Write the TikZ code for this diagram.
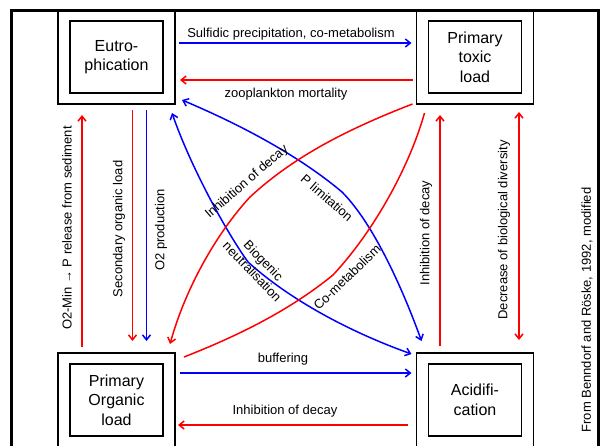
\documentclass[tikz,border=0pt]{standalone}
\usepackage{fontspec}
\setmainfont{Liberation Sans}
\usetikzlibrary{arrows.meta,calc}
\begin{document}
\begin{tikzpicture}[x=1pt,y=-1pt,
  >={Straight Barb[length=5pt,width=8pt]},
  outerbox/.style={draw, line width=1.5pt, minimum width=117pt, minimum height=94pt, inner sep=0pt, outer sep=0pt},
  innerbox/.style={draw, line width=1.5pt, minimum width=93pt, minimum height=72pt, inner sep=0pt, outer sep=0pt, align=center, font=\fontsize{16}{19.5}\selectfont},
  lbl/.style={font=\fontsize{13}{15.6}\selectfont, inner sep=0pt, align=center},
  rline/.style={draw=red, line width=1.5pt},
  bline/.style={draw=blue, line width=1.5pt},
]
\useasboundingbox (0,0) rectangle (603,445);
\clip (0,0) rectangle (603,445);
\fill[white] (0,0) rectangle (603,445);

% outer frame (open towards the bottom edge)
\draw[line width=3pt] (11.7,452) -- (11.7,10) -- (598.3,10) -- (598.3,452);

% the four compartments
\node[outerbox] (eut) at (116.5,57) {};
\node[innerbox] (eutIn) at (116.5,57) {Eutro-\\phication};
\node[outerbox] (tox) at (475,57) {};
\node[innerbox] (toxIn) at (475,57) {Primary\\toxic\\load};
\node[outerbox] (org) at (116.5,400) {};
\node[innerbox] (orgIn) at (116.5,400) {Primary\\Organic\\load};
\node[outerbox] (acid) at (475,400) {};
\node[innerbox] (acidIn) at (475,400) {Acidifi-\\cation};

% horizontal links
\draw[bline,->,shorten <=4pt,shorten >=5pt] (eut.east |- 0,43) -- (tox.west |- 0,43);
\draw[rline,->,shorten <=4pt,shorten >=5pt] (tox.west |- 0,80) -- (eut.east |- 0,80);
\draw[bline,->,shorten <=5pt,shorten >=5pt] (org.east |- 0,373) -- (acid.west |- 0,373);
\draw[rline,->,shorten <=9pt,shorten >=3pt] (acid.west |- 0,425) -- (org.east |- 0,425);

\node[lbl,anchor=base] (lSulf) at (291,37) {Sulfidic precipitation, co-metabolism};
\node[lbl,anchor=base] (lZoo) at (286,97) {zooplankton mortality};
\node[lbl,anchor=base] (lBuf) at (283,362) {buffering};
\node[lbl,anchor=base] (lInhB) at (285,414) {Inhibition of decay};

% vertical links
\draw[rline,->,shorten <=6pt,shorten >=11pt] (org.north -| 82,0) -- (eut.south -| 82,0);
\draw[rline,->,shorten <=6pt,shorten >=12pt] (eut.south -| 132.5,0) -- (org.north -| 132.5,0);
\draw[bline,->,shorten <=6pt,shorten >=12pt] (eut.south -| 146.5,0) -- (org.north -| 146.5,0);
\draw[rline,->,shorten <=7pt,shorten >=11pt] (acid.north -| 440,0) -- (tox.south -| 440,0);
\draw[rline,<->,shorten <=8pt,shorten >=13pt] (tox.south -| 519,0) -- (acid.north -| 519,0);

\node[lbl,rotate=90] (lO2Min) at (67,228) {O2-Min → P release from sediment};
\node[lbl,rotate=90] (lSec) at (119,229) {Secondary organic load};
\node[lbl,rotate=90] (lO2P) at (161,230) {O2 production};
\node[lbl,rotate=90] (lInhR) at (426,233) {Inhibition of decay};
\node[lbl,rotate=90] (lDiv) at (504,230) {Decrease of biological diversity};

% diagonal links
\draw[bline,<->] ($(eut.south east)+(7,-4)$) .. controls (260,133) and (310,165) .. (342,192)
   .. controls (375,225) and (405,295) .. ($(acid.north west)+(5,-12)$);
\draw[bline,<->] ($(eut.south east)+(-3,9)$) .. controls (190,165) and (225,230) .. (248,262)
   .. controls (290,300) and (350,332) .. ($(acid.north west)+(-5,1)$);
\draw[rline,->] ($(tox.south west)+(-4,0)$) .. controls (340,132) and (290,160) .. (250,197)
   .. controls (215,235) and (185,290) .. ($(org.north east)+(-5,-9)$);
\draw[rline] ($(tox.south west)+(8,9)$) .. controls (410,165) and (375,230) .. (333,275)
   .. controls (290,310) and (240,335) .. ($(org.north east)+(9,4)$);

\node[lbl,rotate=41] (lInhD) at (247,182) {Inhibition of decay};
\node[lbl,rotate=-41] (lPlim) at (327,198) {P limitation};
\node[lbl,rotate=-46] (lBio) at (258,266) {Biogenic\\neutralisation};
\node[lbl,rotate=44] (lCo) at (347,277) {Co-metabolism};

% source note
\node[lbl,rotate=90] (lSrc) at (587,310) {From Benndorf and Röske, 1992, modified};
\end{tikzpicture}
\end{document}
